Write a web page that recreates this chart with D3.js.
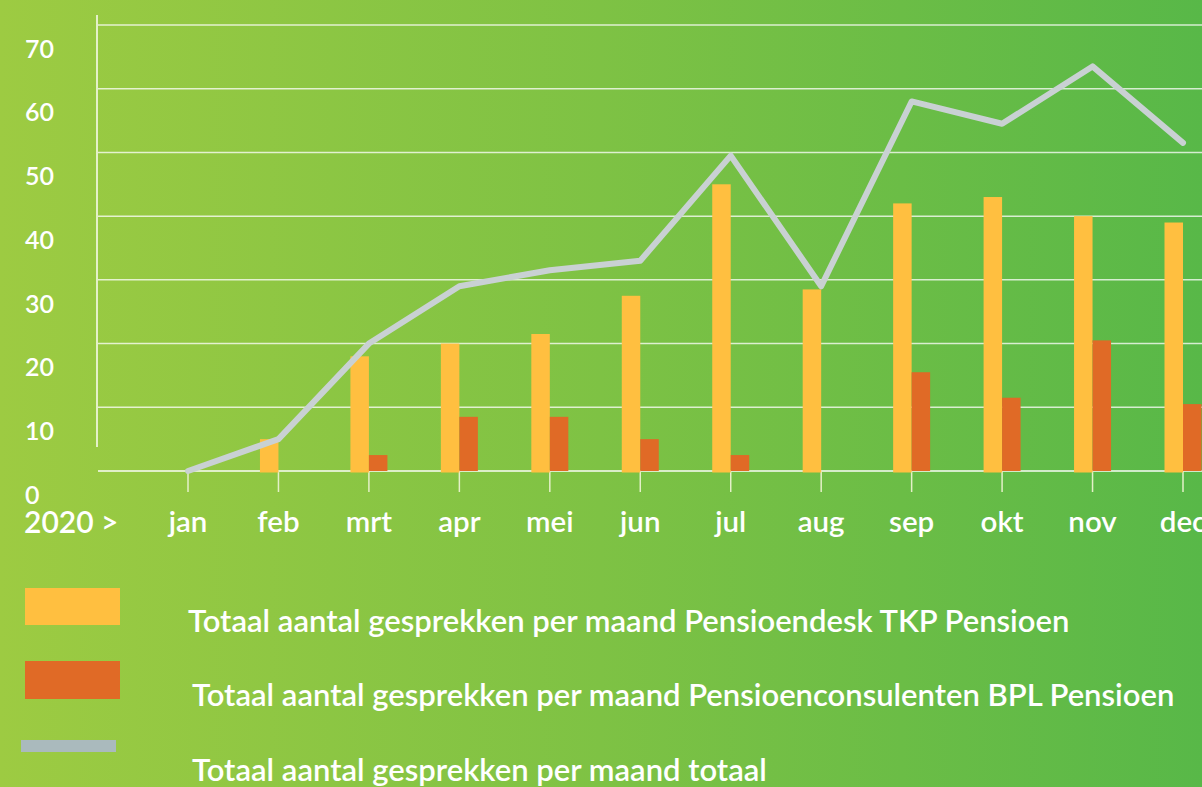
<!DOCTYPE html>
<html>
<head>
<meta charset="utf-8">
<script src="https://cdn.jsdelivr.net/npm/d3@7"></script>
<style>
  body { margin: 0; overflow: hidden; }
  svg { display: block; }
  text { font-family: Lato, 'Open Sans', sans-serif; fill: #fff; }
</style>
</head>
<body>
<div id="chart"></div>
<script>
// Maanden en waarden
const months = ['jan', 'feb', 'mrt', 'apr', 'mei', 'jun', 'jul', 'aug', 'sep', 'okt', 'nov', 'dec']
const tkp = [0, 5, 18, 20, 21.5, 27.5, 45, 28.5, 42, 43, 40, 39]
const bpl = [0, 0, 2.5, 8.5, 8.5, 5, 2.5, 0, 15.5, 11.5, 20.5, 10.5]
const totaal = [0, 5, 20, 29, 31.5, 33, 49.5, 29, 58, 54.5, 63.5, 51.5]
const yTicks = [0, 10, 20, 30, 40, 50, 60, 70]
const legendLabels = [
  'Totaal aantal gesprekken per maand Pensioendesk TKP Pensioen',
  'Totaal aantal gesprekken per maand Pensioenconsulenten BPL Pensioen',
  'Totaal aantal gesprekken per maand totaal'
]

const W = 1202, H = 787
const colors = { tkp: '#FFBF40', bpl: '#E06A26', line: '#C9D1D3', legendLine: '#AABABD' }

const svg = d3.select('#chart').append('svg')
  .attr('width', W)
  .attr('height', H)

// Achtergrond met verloop
const grad = svg.append('defs').append('linearGradient')
  .attr('id', 'bg')
  .attr('x1', '0%').attr('x2', '100%')
  .attr('y1', '0%').attr('y2', '0%')
grad.append('stop').attr('offset', '0%').attr('stop-color', '#9DCB42')
grad.append('stop').attr('offset', '50%').attr('stop-color', '#7EC244')
grad.append('stop').attr('offset', '100%').attr('stop-color', '#58B848')

svg.append('rect')
  .attr('width', W)
  .attr('height', H)
  .attr('fill', 'url(#bg)')

// Schalen
const y = d3.scaleLinear().domain([0, 70]).range([471, 25])
const x = d3.scalePoint().domain(months).range([188, 1183])
const barW = 18.5

// Rasterlijnen
svg.append('g')
  .selectAll('line')
  .data(yTicks)
  .join('line')
  .attr('x1', 98)
  .attr('x2', W)
  .attr('y1', d => y(d))
  .attr('y2', d => y(d))
  .attr('stroke', '#fff')
  .attr('stroke-opacity', d => d === 0 ? 0.95 : 0.75)
  .attr('stroke-width', 1.5)

// Verticale as
svg.append('line')
  .attr('x1', 97).attr('x2', 97)
  .attr('y1', 15).attr('y2', 447)
  .attr('stroke', '#E4F0C8')
  .attr('stroke-width', 2)

// Y labels (staan iets onder de lijnen)
svg.append('g')
  .selectAll('text')
  .data(yTicks)
  .join('text')
  .attr('x', 25)
  .attr('y', d => y(d) + 24)
  .attr('dy', '0.35em')
  .attr('font-size', 25)
  .attr('font-weight', 600)
  .text(d => d)

// X tick streepjes
svg.append('g')
  .selectAll('line')
  .data(months)
  .join('line')
  .attr('x1', d => x(d))
  .attr('x2', d => x(d))
  .attr('y1', y(0))
  .attr('y2', y(0) + 21)
  .attr('stroke', '#E4F0C8')
  .attr('stroke-width', 1.5)

// X labels
svg.append('g')
  .selectAll('text')
  .data(months)
  .join('text')
  .attr('x', d => x(d))
  .attr('y', 522)
  .attr('dy', '0.35em')
  .attr('text-anchor', 'middle')
  .attr('font-size', 29.5)
  .attr('font-weight', 600)
  .text(d => d)

svg.append('text')
  .attr('x', 24)
  .attr('y', 522)
  .attr('dy', '0.35em')
  .attr('font-size', 30)
  .attr('font-weight', 600)
  .text('2020 >')

// Staven TKP
svg.append('g')
  .selectAll('rect')
  .data(months.map((m, i) => ({ m, v: tkp[i] })).filter(d => d.v > 0))
  .join('rect')
  .attr('x', d => x(d.m) - barW)
  .attr('y', d => y(d.v))
  .attr('width', barW)
  .attr('height', d => y(0) - y(d.v) + 1.5)
  .attr('fill', colors.tkp)

// Staven BPL
svg.append('g')
  .selectAll('rect')
  .data(months.map((m, i) => ({ m, v: bpl[i] })).filter(d => d.v > 0))
  .join('rect')
  .attr('x', d => x(d.m))
  .attr('y', d => y(d.v))
  .attr('width', barW)
  .attr('height', d => y(0) - y(d.v))
  .attr('fill', colors.bpl)

// Lijn totaal
const line = d3.line()
  .x((d, i) => x(months[i]))
  .y(d => y(d))

svg.append('path')
  .datum(totaal)
  .attr('d', line)
  .attr('fill', 'none')
  .attr('stroke', colors.line)
  .attr('stroke-width', 6)
  .attr('stroke-linejoin', 'round')
  .attr('stroke-linecap', 'round')

// Legenda
const legend = svg.append('g')

legend.append('rect')
  .attr('x', 25).attr('y', 588)
  .attr('width', 95).attr('height', 37)
  .attr('fill', colors.tkp)

legend.append('rect')
  .attr('x', 25).attr('y', 661)
  .attr('width', 95).attr('height', 38)
  .attr('fill', colors.bpl)

legend.append('rect')
  .attr('x', 21).attr('y', 740)
  .attr('width', 95).attr('height', 12)
  .attr('fill', colors.legendLine)

const legendPos = [[188, 621], [192, 695], [192, 770]]
legend.selectAll('text')
  .data(legendLabels)
  .join('text')
  .attr('x', (d, i) => legendPos[i][0])
  .attr('y', (d, i) => legendPos[i][1])
  .attr('dy', '0.35em')
  .attr('font-size', 31)
  .attr('font-weight', 600)
  .text(d => d)
</script>
</body>
</html>
